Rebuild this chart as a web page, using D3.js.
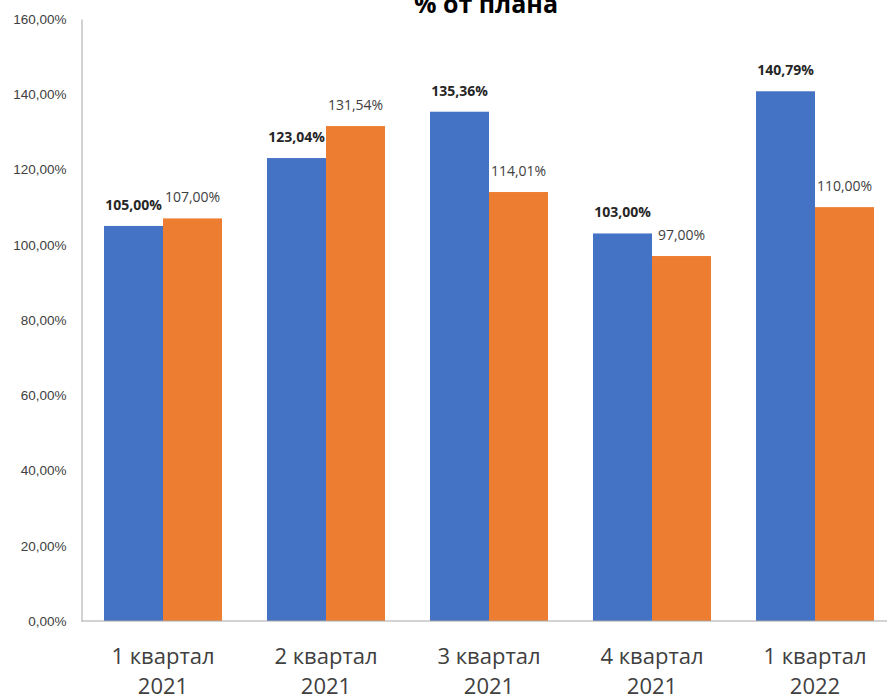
<!DOCTYPE html>
<html lang="ru">
<head>
<meta charset="UTF-8">
<title>% от плана</title>
<script src="https://d3js.org/d3.v7.min.js"></script>
<style>
  body { margin: 0; background: #fff; }
  svg text { font-family: "Open Sans", "Liberation Sans", sans-serif; }
</style>
</head>
<body>
<svg width="887" height="698"></svg>
<script>
// данные
const categories = ["1 квартал|2021", "2 квартал|2021", "3 квартал|2021", "4 квартал|2021", "1 квартал|2022"];
const series = ["s1", "s2"];
const values1 = [105.00, 123.04, 135.36, 103.00, 140.79];
const values2 = [107.00, 131.54, 114.01, 97.00, 110.00];
const yTicks = [0, 20, 40, 60, 80, 100, 120, 140, 160];
const colors = ["#4472C4", "#ED7D31"];

const svg = d3.select("svg");
const plotL = 81.5, plotR = 896.5, plotT = 19, plotB = 621;

const fmt = v => v.toFixed(2).replace(".", ",") + "%";

const x0 = d3.scaleBand().domain(categories).range([plotL, plotR])
    .paddingInner(0.276).paddingOuter(0.138);
const x1 = d3.scaleBand().domain(series).range([0, x0.bandwidth()]);
const y = d3.scaleLinear().domain([0, 160]).range([plotB, plotT]);

// title
svg.append("text")
    .attr("x", 486).attr("y", 13)
    .attr("text-anchor", "middle")
    .style("font-weight", "bold").style("font-size", "25px")
    .attr("fill", "#000")
    .text("% от плана");

// y axis
const yAxis = svg.append("g")
    .attr("transform", `translate(${plotL},0)`)
    .call(d3.axisLeft(y).tickValues(yTicks).tickSize(0).tickPadding(15).tickFormat(fmt));
yAxis.select(".domain").attr("stroke", "#A6A6A6");
yAxis.selectAll("text").style("font-size", "13.5px").attr("fill", "#404040")
    .style("font-family", "'Liberation Sans', sans-serif");

// bars
const rows = categories.map((c, i) => ({cat: c, vals: [values1[i], values2[i]]}));
const grp = svg.append("g").selectAll("g").data(rows).join("g")
    .attr("transform", d => `translate(${x0(d.cat)},0)`);

grp.selectAll("rect").data(d => d.vals.map((v, k) => ({k, v}))).join("rect")
    .attr("x", d => x1(series[d.k]))
    .attr("y", d => y(d.v))
    .attr("width", x1.bandwidth())
    .attr("height", d => y(0) - y(d.v))
    .attr("fill", d => colors[d.k]);

grp.selectAll("text.lbl").data(d => d.vals.map((v, k) => ({k, v}))).join("text")
    .attr("class", "lbl")
    .attr("x", d => x1(series[d.k]) + x1.bandwidth() / 2)
    .attr("y", d => y(d.v) - 16)
    .attr("text-anchor", "middle")
    .style("font-size", "14px")
    .style("font-weight", d => d.k === 0 ? "bold" : "normal")
    .attr("fill", d => d.k === 0 ? "#262626" : "#404040")
    .text(d => fmt(d.v));

// x axis
svg.append("line")
    .attr("x1", plotL).attr("x2", plotR)
    .attr("y1", plotB).attr("y2", plotB)
    .attr("stroke", "#A6A6A6");

const xl = svg.append("g").selectAll("text").data(categories).join("text")
    .attr("x", d => x0(d) + x0.bandwidth() / 2)
    .attr("y", 664)
    .attr("text-anchor", "middle")
    .style("font-size", "22px")
    .attr("fill", "#404040");
xl.each(function(d) {
    const parts = d.split("|");
    d3.select(this).selectAll("tspan").data(parts).join("tspan")
        .attr("x", x0(d) + x0.bandwidth() / 2)
        .attr("dy", (p, i) => i === 0 ? 0 : 30)
        .text(p => p);
});
</script>
</body>
</html>
